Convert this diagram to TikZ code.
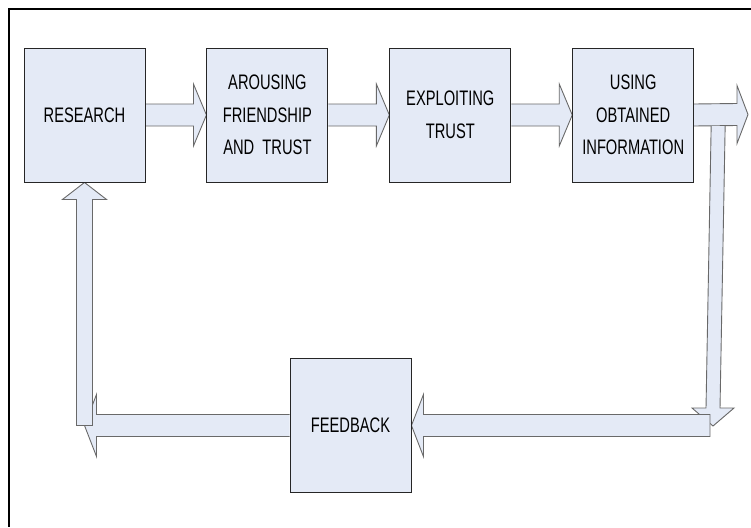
\documentclass[tikz,border=0pt]{standalone}
\usepackage{fontspec}
\setmainfont{Liberation Sans}[FakeStretch=0.70]
\usetikzlibrary{positioning,calc,backgrounds}
\definecolor{boxfill}{RGB}{228,234,246}
\definecolor{arrowline}{RGB}{105,105,105}
\begin{document}
\begin{tikzpicture}[x=1pt, y=-1pt,
stage/.style={rectangle, draw=black!85, fill=boxfill, line width=0.9pt, minimum width=121pt, minimum height=134pt, inner sep=0pt, align=center, font=\fontsize{21}{32.5}\selectfont},
blockarrow/.style={draw=arrowline, fill=boxfill, line width=0.9pt, line join=miter},
]
\useasboundingbox (0,0) rectangle (751,527);
\draw[line width=2.5pt] (751,9) -- (9,9) -- (9,527);

\node[stage] (res) at (84.5,115) {RESEARCH};
\node[stage] (aro) [right=61pt of res] {AROUSING\\FRIENDSHIP\\AND\ \ TRUST};
\node[stage] (exp) [right=61pt of aro] {EXPLOITING\\TRUST};
\node[stage] (use) [right=61pt of exp] {USING\\OBTAINED\\INFORMATION};
\node[stage] (fb) at (350.5,425.5) {FEEDBACK};

\coordinate (out) at (748,114.5);
\coordinate (down) at (713,426);
\coordinate (back) at (res.south |- fb.west);

\begin{scope}[on background layer]
% top row
\draw[blockarrow] ($(res.east)+(0,-11)$) -- ($(aro.west)+(-13,-11)$) -- ($(aro.west)+(-13,-31)$) -- (aro.west)
	-- ($(aro.west)+(-13,31)$) -- ($(aro.west)+(-13,11)$) -- ($(res.east)+(0,11)$);
\draw[blockarrow] ($(aro.east)+(0,-11)$) -- ($(exp.west)+(-13,-11)$) -- ($(exp.west)+(-13,-31)$) -- (exp.west)
	-- ($(exp.west)+(-13,31)$) -- ($(exp.west)+(-13,11)$) -- ($(aro.east)+(0,11)$);
\draw[blockarrow] ($(exp.east)+(0,-11)$) -- ($(use.west)+(-13,-11)$) -- ($(use.west)+(-13,-31)$) -- (use.west)
	-- ($(use.west)+(-13,31)$) -- ($(use.west)+(-13,11)$) -- ($(exp.east)+(0,11)$);
\draw[blockarrow] ($(use.east)+(0,-11)$) -- ($(out)+(-11,-11)$) -- ($(out)+(-11,-29)$) -- (out)
	-- ($(out)+(-11,29)$) -- ($(out)+(-11,11)$) -- ($(use.east)+(0,11)$);
% way back
\draw[blockarrow] ($(use.east)+(17,11)$) -- ($(down)+(-7,-18)$) -- ($(down)+(-21,-18)$) -- (down)
	-- ($(down)+(21,-18)$) -- ($(down)+(7,-18)$) -- ($(use.east)+(31,11)$);
\draw[blockarrow] ($(fb.east -| down)+(-3,-11)$) -- ($(fb.east)+(12,-11)$) -- ($(fb.east)+(12,-31)$) -- (fb.east)
	-- ($(fb.east)+(12,31)$) -- ($(fb.east)+(12,11)$) -- ($(fb.east -| down)+(-3,11)$) -- cycle;
\draw[blockarrow] ($(fb.west)+(0,-11)$) -- ($(back)+(12,-11)$) -- ($(back)+(12,-31)$) -- (back)
	-- ($(back)+(12,31)$) -- ($(back)+(12,11)$) -- ($(fb.west)+(0,11)$);
\draw[blockarrow] ($(back)+(-8,0)$) -- ($(res.south)+(-8,17)$) -- ($(res.south)+(-22,17)$) -- (res.south)
	-- ($(res.south)+(22,17)$) -- ($(res.south)+(8,17)$) -- ($(back)+(8,0)$) -- cycle;
\end{scope}
\end{tikzpicture}
\end{document}
